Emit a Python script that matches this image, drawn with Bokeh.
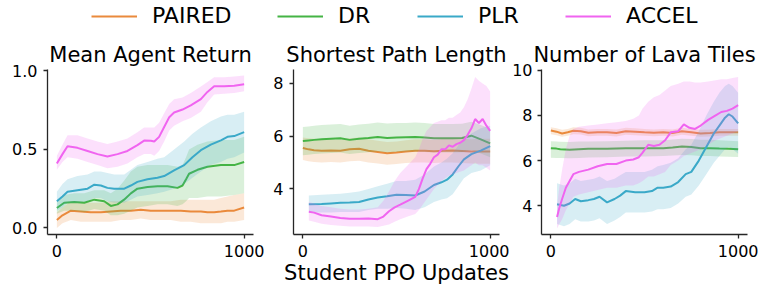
from bokeh.plotting import figure
from bokeh.models import Range1d, FixedTicker, Legend, LegendItem, PrintfTickFormatter
from bokeh.layouts import column, row
from bokeh.embed import file_html
from bokeh.resources import INLINE

FONT = "DejaVu Sans"
NAMES = ["PAIRED", "DR", "PLR", "ACCEL"]
COLORS = {"PAIRED": "#ea8a3c", "DR": "#45b445", "PLR": "#3aa9c8", "ACCEL": "#f064f0"}

TITLES = ["Mean Agent Return", "Shortest Path Length", "Number of Lava Tiles"]
X_TICKS = [0, 1000]
Y_TICKS_1 = [0.0, 0.5, 1.0]
Y_TICKS_2 = [4, 6, 8]
Y_TICKS_3 = [4, 6, 8, 10]
X_LABEL = "Student PPO Updates"

# ---------------- Panel 1: Mean Agent Return ----------------
P1_PAIRED_X = [0, 30, 75, 128, 181, 235, 288, 341, 395, 448, 501, 555, 608, 662, 715, 769, 804, 840, 876, 911, 947, 1000]
P1_PAIRED_Y = [0.05, 0.08, 0.11, 0.105, 0.10, 0.10, 0.105, 0.11, 0.11, 0.115, 0.11, 0.11, 0.11, 0.11, 0.105, 0.105, 0.10, 0.10, 0.105, 0.11, 0.11, 0.13]
P1_PAIRED_HI = [0.10, 0.13, 0.17, 0.17, 0.16, 0.16, 0.17, 0.17, 0.17, 0.17, 0.17, 0.17, 0.17, 0.18, 0.18, 0.18, 0.18, 0.18, 0.19, 0.20, 0.21, 0.22]
P1_PAIRED_LO = [0.00, 0.03, 0.05, 0.04, 0.04, 0.04, 0.04, 0.05, 0.05, 0.06, 0.05, 0.05, 0.05, 0.04, 0.04, 0.03, 0.03, 0.03, 0.03, 0.04, 0.04, 0.05]

P1_DR_X = [0, 39, 93, 146, 200, 253, 288, 324, 359, 395, 430, 484, 537, 591, 644, 671, 690, 706, 751, 804, 876, 947, 1000]
P1_DR_Y = [0.127, 0.16, 0.165, 0.16, 0.18, 0.17, 0.14, 0.15, 0.18, 0.22, 0.25, 0.26, 0.265, 0.265, 0.255, 0.27, 0.31, 0.345, 0.37, 0.39, 0.40, 0.40, 0.42]
P1_DR_HI = [0.17, 0.21, 0.22, 0.22, 0.24, 0.24, 0.22, 0.25, 0.30, 0.36, 0.39, 0.40, 0.40, 0.40, 0.39, 0.40, 0.45, 0.50, 0.53, 0.55, 0.56, 0.56, 0.58]
P1_DR_LO = [0.09, 0.11, 0.11, 0.10, 0.12, 0.11, 0.08, 0.08, 0.09, 0.11, 0.13, 0.14, 0.15, 0.15, 0.14, 0.15, 0.17, 0.19, 0.19, 0.20, 0.20, 0.21, 0.22]

P1_PLR_X = [0, 30, 57, 110, 164, 200, 235, 270, 306, 360, 395, 430, 484, 537, 573, 626, 680, 724, 769, 822, 876, 911, 947, 1000]
P1_PLR_Y = [0.17, 0.20, 0.23, 0.24, 0.25, 0.275, 0.27, 0.255, 0.25, 0.25, 0.27, 0.293, 0.31, 0.32, 0.33, 0.367, 0.40, 0.45, 0.495, 0.53, 0.558, 0.58, 0.585, 0.61]
P1_PLR_HI = [0.23, 0.28, 0.31, 0.33, 0.34, 0.36, 0.36, 0.35, 0.34, 0.34, 0.37, 0.40, 0.42, 0.44, 0.45, 0.50, 0.55, 0.60, 0.64, 0.68, 0.71, 0.72, 0.72, 0.74]
P1_PLR_LO = [0.11, 0.13, 0.16, 0.16, 0.17, 0.19, 0.19, 0.17, 0.16, 0.16, 0.18, 0.20, 0.21, 0.22, 0.23, 0.25, 0.28, 0.32, 0.36, 0.40, 0.42, 0.44, 0.45, 0.48]

P1_ACCEL_X = [0, 30, 57, 110, 164, 217, 270, 324, 377, 430, 466, 502, 520, 546, 573, 600, 626, 671, 715, 769, 804, 840, 893, 947, 1000]
P1_ACCEL_Y = [0.41, 0.47, 0.52, 0.51, 0.49, 0.47, 0.455, 0.47, 0.49, 0.527, 0.556, 0.555, 0.55, 0.58, 0.643, 0.705, 0.735, 0.754, 0.78, 0.82, 0.866, 0.902, 0.902, 0.906, 0.915]
P1_ACCEL_HI = [0.46, 0.53, 0.59, 0.59, 0.57, 0.55, 0.535, 0.55, 0.57, 0.61, 0.64, 0.64, 0.64, 0.67, 0.73, 0.79, 0.82, 0.83, 0.86, 0.90, 0.93, 0.96, 0.96, 0.965, 0.97]
P1_ACCEL_LO = [0.37, 0.42, 0.45, 0.44, 0.42, 0.40, 0.38, 0.39, 0.41, 0.45, 0.47, 0.47, 0.46, 0.49, 0.55, 0.62, 0.65, 0.68, 0.70, 0.74, 0.80, 0.85, 0.855, 0.86, 0.87]

# ---------------- Panel 2: Shortest Path Length ----------------
P2_PAIRED_X = [0, 30, 60, 100, 150, 200, 250, 300, 350, 400, 450, 500, 550, 600, 650, 700, 750, 800, 850, 900, 950, 1000]
P2_PAIRED_Y = [5.55, 5.5, 5.47, 5.45, 5.46, 5.45, 5.5, 5.52, 5.45, 5.4, 5.35, 5.38, 5.42, 5.45, 5.45, 5.43, 5.45, 5.46, 5.44, 5.42, 5.42, 5.42]
P2_PAIRED_HI = [5.95, 5.92, 5.9, 5.88, 5.88, 5.87, 5.92, 5.95, 5.88, 5.83, 5.78, 5.8, 5.85, 5.88, 5.88, 5.86, 5.9, 5.92, 5.9, 5.88, 5.9, 5.9]
P2_PAIRED_LO = [5.1, 5.05, 5.02, 5.0, 5.02, 5.0, 5.05, 5.07, 5.0, 4.96, 4.92, 4.94, 4.98, 5.0, 5.0, 4.98, 5.0, 5.0, 4.98, 4.96, 4.95, 4.95]

P2_DR_X = [0, 30, 60, 100, 150, 200, 250, 300, 350, 400, 450, 500, 550, 600, 650, 700, 750, 800, 850, 900, 950, 1000]
P2_DR_Y = [5.82, 5.84, 5.86, 5.88, 5.9, 5.92, 5.86, 5.9, 5.93, 5.97, 5.93, 5.95, 5.96, 5.97, 5.95, 5.92, 5.92, 5.92, 5.93, 6.02, 5.88, 5.73]
P2_DR_HI = [6.35, 6.37, 6.4, 6.42, 6.44, 6.46, 6.4, 6.44, 6.47, 6.52, 6.48, 6.5, 6.5, 6.52, 6.5, 6.46, 6.46, 6.46, 6.47, 6.55, 6.42, 6.28]
P2_DR_LO = [5.28, 5.3, 5.32, 5.34, 5.36, 5.38, 5.32, 5.36, 5.39, 5.42, 5.38, 5.4, 5.42, 5.42, 5.4, 5.38, 5.38, 5.38, 5.39, 5.48, 5.34, 5.2]

P2_PLR_X = [32, 100, 150, 200, 250, 300, 350, 400, 450, 500, 550, 600, 650, 700, 740, 770, 800, 830, 860, 900, 950, 1000]
P2_PLR_Y = [3.42, 3.43, 3.45, 3.47, 3.48, 3.5, 3.6, 3.67, 3.72, 3.78, 3.77, 3.75, 3.9, 4.15, 4.25, 4.35, 4.55, 4.85, 5.12, 5.32, 5.45, 5.62]
P2_PLR_HI = [3.75, 3.78, 3.8, 3.82, 3.85, 3.9, 4.0, 4.1, 4.2, 4.3, 4.3, 4.35, 4.55, 4.85, 5.0, 5.15, 5.35, 5.65, 5.9, 6.1, 6.3, 6.4]
P2_PLR_LO = [3.1, 3.1, 3.1, 3.12, 3.12, 3.12, 3.2, 3.25, 3.25, 3.28, 3.25, 3.2, 3.3, 3.5, 3.6, 3.65, 3.8, 4.1, 4.4, 4.6, 4.7, 4.9]

P2_ACCEL_X = [32, 60, 100, 150, 200, 250, 300, 350, 400, 430, 460, 490, 520, 560, 600, 620, 640, 660, 680, 700, 720, 740, 760, 780, 800, 820, 840, 860, 880, 900, 920, 940, 960, 980, 1000]
P2_ACCEL_Y = [3.13, 3.1, 3.0, 2.95, 2.9, 2.87, 2.87, 2.88, 2.85, 2.95, 3.15, 3.3, 3.4, 3.55, 3.7, 4.0, 4.4, 4.75, 4.95, 5.2, 5.3, 5.5, 5.5, 5.65, 5.6, 5.7, 5.75, 5.85, 6.05, 6.3, 6.65, 6.5, 6.65, 6.4, 6.2]
P2_ACCEL_HI = [3.5, 3.45, 3.35, 3.3, 3.25, 3.22, 3.22, 3.25, 3.3, 3.55, 3.9, 4.3, 4.6, 4.9, 5.2, 5.5, 5.9, 6.2, 6.35, 6.5, 6.55, 6.6, 6.6, 6.7, 6.7, 6.8, 6.9, 7.1, 7.4, 7.8, 8.25, 8.1, 8.0, 7.9, 7.7]
P2_ACCEL_LO = [2.8, 2.75, 2.68, 2.63, 2.6, 2.57, 2.57, 2.57, 2.55, 2.6, 2.65, 2.75, 2.85, 2.95, 3.05, 3.2, 3.4, 3.6, 3.8, 4.0, 4.15, 4.3, 4.4, 4.5, 4.55, 4.6, 4.65, 4.7, 4.8, 4.9, 5.0, 4.9, 4.9, 4.8, 4.7]

# ---------------- Panel 3: Number of Lava Tiles ----------------
P3_PAIRED_X = [0, 30, 60, 90, 120, 160, 200, 250, 300, 350, 400, 450, 500, 550, 600, 650, 700, 750, 800, 850, 900, 950, 1000]
P3_PAIRED_Y = [7.33, 7.28, 7.2, 7.25, 7.32, 7.3, 7.23, 7.25, 7.25, 7.22, 7.3, 7.28, 7.25, 7.23, 7.25, 7.22, 7.3, 7.25, 7.2, 7.22, 7.25, 7.25, 7.25]
P3_PAIRED_HI = [7.48, 7.43, 7.36, 7.4, 7.47, 7.45, 7.38, 7.4, 7.4, 7.37, 7.45, 7.43, 7.4, 7.38, 7.4, 7.37, 7.45, 7.4, 7.36, 7.37, 7.4, 7.4, 7.4]
P3_PAIRED_LO = [7.17, 7.12, 7.05, 7.1, 7.16, 7.15, 7.08, 7.1, 7.1, 7.07, 7.14, 7.12, 7.1, 7.08, 7.1, 7.07, 7.14, 7.1, 7.05, 7.07, 7.1, 7.1, 7.1]

P3_DR_X = [0, 30, 50, 100, 150, 200, 300, 400, 500, 600, 650, 700, 750, 800, 850, 900, 950, 1000]
P3_DR_Y = [6.55, 6.53, 6.5, 6.48, 6.5, 6.52, 6.52, 6.55, 6.55, 6.55, 6.58, 6.62, 6.6, 6.55, 6.55, 6.53, 6.52, 6.5]
P3_DR_HI = [6.86, 6.85, 6.83, 6.82, 6.84, 6.85, 6.86, 6.88, 6.9, 6.9, 6.93, 6.97, 6.96, 6.92, 6.92, 6.9, 6.88, 6.86]
P3_DR_LO = [6.13, 6.12, 6.12, 6.1, 6.12, 6.14, 6.15, 6.18, 6.18, 6.2, 6.22, 6.25, 6.24, 6.2, 6.2, 6.18, 6.17, 6.16]

P3_PLR_X = [33, 70, 100, 130, 160, 200, 230, 260, 300, 340, 370, 400, 450, 500, 540, 570, 600, 640, 680, 720, 750, 790, 830, 870, 900, 930, 950, 970, 1000]
P3_PLR_Y = [4.07, 4.0, 4.1, 4.3, 4.2, 4.25, 4.3, 4.4, 4.15, 4.3, 4.45, 4.65, 4.6, 4.6, 4.65, 4.8, 4.8, 4.85, 5.05, 5.4, 5.5, 6.0, 6.6, 7.2, 7.55, 7.9, 8.05, 7.95, 7.65]
P3_PLR_HI = [5.0, 4.9, 5.0, 5.2, 5.1, 5.15, 5.2, 5.3, 5.1, 5.2, 5.35, 5.5, 5.5, 5.5, 5.6, 5.75, 5.8, 5.9, 6.1, 6.5, 6.7, 7.3, 8.0, 8.6, 9.0, 9.3, 9.4, 9.3, 9.0]
P3_PLR_LO = [3.2, 3.1, 3.2, 3.4, 3.3, 3.3, 3.35, 3.45, 3.2, 3.35, 3.5, 3.7, 3.7, 3.7, 3.75, 3.85, 3.85, 3.9, 4.1, 4.4, 4.5, 4.9, 5.4, 5.9, 6.2, 6.5, 6.6, 6.5, 6.3]

P3_ACCEL_X = [33, 45, 60, 80, 100, 120, 150, 200, 250, 300, 350, 400, 440, 470, 490, 520, 550, 580, 610, 640, 680, 710, 740, 770, 800, 840, 880, 910, 940, 970, 1000]
P3_ACCEL_Y = [3.5, 3.9, 4.3, 4.8, 5.1, 5.4, 5.5, 5.6, 5.75, 5.85, 5.85, 6.0, 6.05, 6.15, 6.35, 6.7, 6.65, 6.7, 6.9, 7.25, 7.3, 7.6, 7.45, 7.4, 7.55, 7.8, 8.0, 8.15, 8.2, 8.3, 8.45]
P3_ACCEL_HI = [4.0, 4.8, 5.6, 6.5, 7.1, 7.4, 7.5, 7.55, 7.6, 7.65, 7.7, 7.75, 7.85, 8.0, 8.3, 8.6, 8.8, 8.9, 9.1, 9.3, 9.4, 9.5, 9.5, 9.45, 9.45, 9.5, 9.55, 9.6, 9.6, 9.65, 9.7]
P3_ACCEL_LO = [3.0, 3.2, 3.4, 3.8, 4.1, 4.4, 4.5, 4.6, 4.7, 4.8, 4.8, 4.9, 4.9, 5.0, 5.1, 5.3, 5.3, 5.4, 5.5, 5.8, 6.0, 6.2, 6.3, 6.4, 6.5, 6.7, 6.9, 7.0, 7.1, 7.2, 7.3]

PANEL_DATA = [
    {
        "PAIRED": (P1_PAIRED_X, P1_PAIRED_Y, P1_PAIRED_LO, P1_PAIRED_HI),
        "DR": (P1_DR_X, P1_DR_Y, P1_DR_LO, P1_DR_HI),
        "PLR": (P1_PLR_X, P1_PLR_Y, P1_PLR_LO, P1_PLR_HI),
        "ACCEL": (P1_ACCEL_X, P1_ACCEL_Y, P1_ACCEL_LO, P1_ACCEL_HI),
    },
    {
        "PAIRED": (P2_PAIRED_X, P2_PAIRED_Y, P2_PAIRED_LO, P2_PAIRED_HI),
        "DR": (P2_DR_X, P2_DR_Y, P2_DR_LO, P2_DR_HI),
        "PLR": (P2_PLR_X, P2_PLR_Y, P2_PLR_LO, P2_PLR_HI),
        "ACCEL": (P2_ACCEL_X, P2_ACCEL_Y, P2_ACCEL_LO, P2_ACCEL_HI),
    },
    {
        "PAIRED": (P3_PAIRED_X, P3_PAIRED_Y, P3_PAIRED_LO, P3_PAIRED_HI),
        "DR": (P3_DR_X, P3_DR_Y, P3_DR_LO, P3_DR_HI),
        "PLR": (P3_PLR_X, P3_PLR_Y, P3_PLR_LO, P3_PLR_HI),
        "ACCEL": (P3_ACCEL_X, P3_ACCEL_Y, P3_ACCEL_LO, P3_ACCEL_HI),
    },
]

Y_RANGES = [(-0.042, 1.009), (2.27, 8.53), (2.73, 10.03)]
Y_TICKS = [Y_TICKS_1, Y_TICKS_2, Y_TICKS_3]
Y_FORMATS = ["%.1f", "%d", "%d"]
BORDERS = [(47, 15), (25, 10), (30, 14)]
Y_STANDOFF = [6, 6, 5]
LEGEND_X = [91, 277, 417, 565]

AX = "#262626"
FRAME_W, FRAME_H = 206, 165
LEGEND_H = 36
TOP, BOTTOM = 33, 51


def make_panel(i):
    left, right = BORDERS[i]
    p = figure(frame_width=FRAME_W, frame_height=FRAME_H,
               x_range=Range1d(-50, 1050), y_range=Range1d(*Y_RANGES[i]),
               output_backend="svg", toolbar_location=None,
               min_border_left=left, min_border_right=right,
               min_border_top=TOP, min_border_bottom=BOTTOM)
    p.title.text = TITLES[i]
    p.title.text_font = FONT
    p.title.text_font_size = "21px"
    p.title.text_font_style = "normal"
    p.title.text_color = "#000000"
    p.title.align = "center"
    p.title.standoff = 6
    p.outline_line_color = None
    p.xgrid.visible = False
    p.ygrid.visible = False
    p.background_fill_color = "white"
    p.border_fill_color = "white"

    p.xaxis.ticker = FixedTicker(ticks=X_TICKS)
    p.yaxis.ticker = FixedTicker(ticks=Y_TICKS[i])
    p.yaxis.formatter = PrintfTickFormatter(format=Y_FORMATS[i])
    for ax in (p.xaxis, p.yaxis):
        ax.axis_line_color = AX
        ax.axis_line_width = 1.3
        ax.major_tick_line_color = AX
        ax.major_tick_line_width = 1.3
        ax.major_tick_out = 4
        ax.major_tick_in = 0
        ax.minor_tick_out = 0
        ax.minor_tick_in = 0
        ax.major_label_text_font = FONT
        ax.major_label_text_font_size = "16px"
        ax.major_label_text_color = "#000000"
    p.xaxis.major_label_standoff = 6
    p.yaxis.major_label_standoff = Y_STANDOFF[i]

    data = PANEL_DATA[i]
    for name in NAMES:
        xs, ys, lo, hi = data[name]
        c = COLORS[name]
        p.varea(x=xs, y1=lo, y2=hi, fill_color=c, fill_alpha=0.2)
        p.line(x=xs, y=ys, line_color=c, line_width=2)
    return p


panels = [make_panel(i) for i in range(3)]
panels[1].xaxis.axis_label = X_LABEL
panels[1].xaxis.axis_label_text_font = FONT
panels[1].xaxis.axis_label_text_font_size = "21px"
panels[1].xaxis.axis_label_text_font_style = "normal"
panels[1].xaxis.axis_label_text_color = "#000000"
panels[1].xaxis.axis_label_standoff = 1

total_w = sum(b[0] + b[1] + FRAME_W for b in BORDERS)

lf = figure(width=total_w, height=LEGEND_H, x_range=Range1d(0, 1), y_range=Range1d(0, 1),
            output_backend="svg", toolbar_location=None,
            x_axis_location=None, y_axis_location=None,
            min_border_left=0, min_border_right=0, min_border_top=0, min_border_bottom=0)
lf.outline_line_color = None
lf.xgrid.visible = False
lf.ygrid.visible = False
NAN = float("nan")
for name, lx in zip(NAMES, LEGEND_X):
    r = lf.line(x=[NAN, NAN], y=[NAN, NAN], line_color=COLORS[name], line_width=2.2)
    lg = Legend(items=[LegendItem(label=name, renderers=[r])], orientation="horizontal",
                location=(lx, 8), glyph_width=46, glyph_height=20, label_standoff=15,
                padding=0, margin=0, border_line_color=None, background_fill_alpha=0,
                label_text_font=FONT, label_text_font_size="22px", label_text_color="#000000")
    lf.add_layout(lg)

layout = column(lf, row(*panels))
open("out.html", "w").write(file_html(layout, INLINE))
